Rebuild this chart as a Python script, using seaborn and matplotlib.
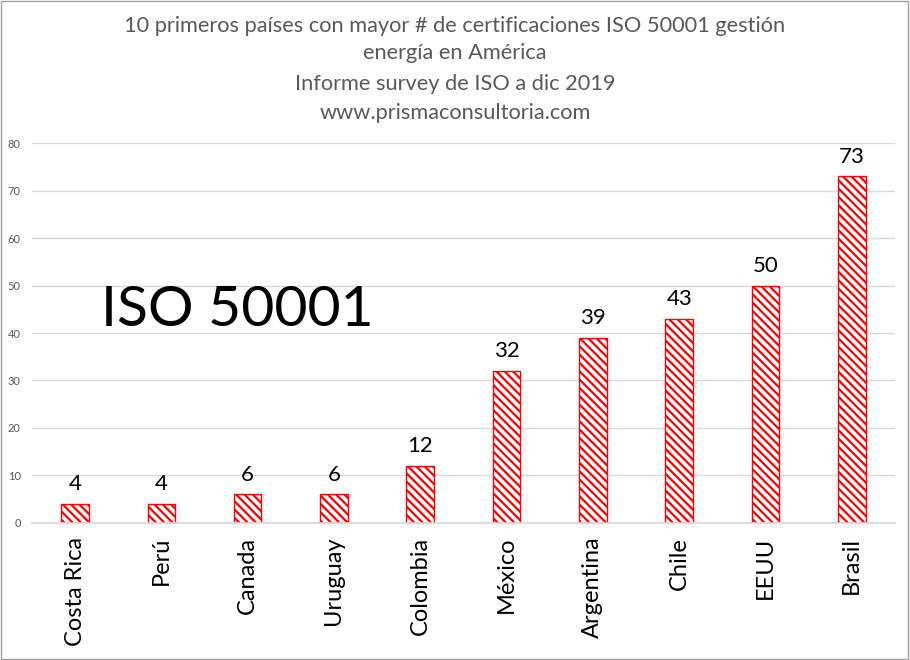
import matplotlib
matplotlib.use("Agg")
import matplotlib.pyplot as plt
import seaborn as sns
import pandas as pd
from matplotlib.patches import Rectangle

countries = ["Costa Rica", "Perú", "Canada", "Uruguay", "Colombia", "México",
             "Argentina", "Chile", "EEUU", "Brasil"]
values = [4, 4, 6, 6, 12, 32, 39, 43, 50, 73]
yticks = [0, 10, 20, 30, 40, 50, 60, 70, 80]
title_lines = ["10 primeros países con mayor # de certificaciones ISO 50001 gestión",
               "energía en América",
               "Informe survey de ISO a dic 2019",
               "www.prismaconsultoria.com"]

sns.set_theme(style="white")
plt.rcParams['font.family'] = ['Lato', 'DejaVu Sans']
plt.rcParams['hatch.color'] = 'red'
plt.rcParams['hatch.linewidth'] = 1.6

df = pd.DataFrame({"country": countries, "value": values})

fig = plt.figure(figsize=(9.1, 6.6), dpi=100)
ax = fig.add_axes([0.035, 0.2076, 0.9485, 0.5757])

sns.barplot(data=df, x="country", y="value", ax=ax, width=0.32,
            color="white", edgecolor="red", linewidth=1.0, saturation=1)
for p in ax.patches:
    p.set_hatch("\\\\\\\\")
    p.set_facecolor("white")
    p.set_edgecolor("red")

ax.set_ylim(0, 80)
ax.set_xlim(-0.5, len(countries) - 0.5)
ax.set_yticks(yticks)
ax.set_yticklabels([str(t) for t in yticks], fontsize=8, color="#595959")
ax.yaxis.grid(True, color="#d9d9d9", linewidth=1)
ax.set_axisbelow(True)
ax.set_xlabel("")
ax.set_ylabel("")
ax.tick_params(axis="x", labelrotation=90, labelsize=17, colors="black", length=0, pad=10)
ax.tick_params(axis="y", length=0, pad=8)
for s in ["top", "right", "left"]:
    ax.spines[s].set_visible(False)
ax.spines["bottom"].set_color("#d9d9d9")

for i, v in enumerate(values):
    ax.annotate(str(v), (i, v), xytext=(0, 7), textcoords="offset points",
                ha="center", va="bottom", fontsize=16, color="black")

ys = [26, 53, 84, 113]
for line, y in zip(title_lines, ys):
    fig.text(0.5, 1 - y / 660, line, ha="center", va="center",
             fontsize=15.7, color="#595959")

fig.text(237 / 910, 1 - 310 / 660, "ISO 50001", ha="center", va="center",
         fontsize=41, color="black")

fig.patches.append(Rectangle((0.001, 0.001), 0.997, 0.997, transform=fig.transFigure,
                             fill=False, edgecolor="#a0a0a0", linewidth=1))

fig.savefig("out.png", dpi=100)
